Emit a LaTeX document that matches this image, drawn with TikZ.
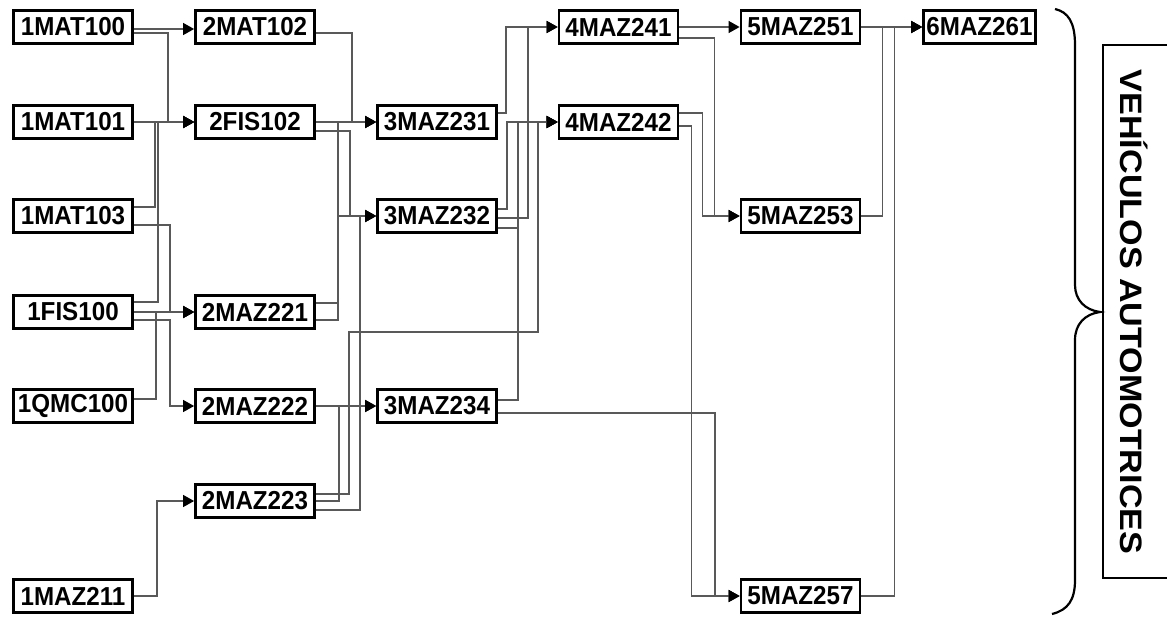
\documentclass[tikz,border=0pt]{standalone}
\usepackage{fontspec}
\setmainfont{Liberation Sans}
\newfontfamily\boxfont[FakeStretch=0.93]{Liberation Sans}
\newfontfamily\titlefont[FakeStretch=1.1]{Liberation Sans}
\usetikzlibrary{arrows.meta,calc}
\begin{document}
\begin{tikzpicture}[x=1pt,y=-1pt]
\tikzset{
  course/.style={draw=black, line width=2.8pt, fill=white, minimum width=119pt,
    minimum height=33pt, inner sep=0pt, font=\boxfont\fontsize{26}{27}\selectfont\bfseries},
  conn/.style={draw=black!65, line width=1.2pt},
  arr/.style={conn, -{Triangle[length=11pt,width=12pt,black]}},
}
\useasboundingbox (0,0) rectangle (1167,616);
\clip (0,0) rectangle (1167,616);
% column 1
\node[course] (a1) at (73,27) {1MAT100};
\node[course] (a2) at (73,122) {1MAT101};
\node[course] (a3) at (73,216) {1MAT103};
\node[course] (a4) at (73,312) {1FIS100};
\node[course] (a5) at (73,406) {1QMC100};
\node[course] (a7) at (73,596) {1MAZ211};
% column 2
\node[course] (b1) at (255,27) {2MAT102};
\node[course] (b2) at (255,122) {2FIS102};
\node[course] (b4) at (255,312) {2MAZ221};
\node[course] (b5) at (255,406) {2MAZ222};
\node[course] (b6) at (255,501) {2MAZ223};
% column 3
\node[course] (c1) at (437,122) {3MAZ231};
\node[course] (c2) at (437,216) {3MAZ232};
\node[course] (c3) at (437,406) {3MAZ234};
% column 4
\node[course] (d1) at (618.5,27) {4MAZ241};
\node[course] (d2) at (618.5,122) {4MAZ242};
% column 5
\node[course] (e1) at (800.5,27) {5MAZ251};
\node[course] (e2) at (800.5,216) {5MAZ253};
\node[course] (e3) at (800.5,596) {5MAZ257};
% column 6
\node[course, minimum width=112pt] (f1) at (979.5,27) {6MAZ261};
\coordinate (j1) at (538,332);
% col1 -> col2
\draw[arr] ([yshift=-2pt]a1.east) -- ([yshift=-2pt]b1.west);
\draw[arr] ([yshift=-6pt]a1.east) -- ++(34,0) |- (b2.west);
\draw[arr] (a2.east) -- (b2.west);
\draw[arr] ([yshift=9pt]a3.east) -- ++(21,0) |- (b2.west);
\draw[arr] ([yshift=-9pt]a3.east) -- ++(36,0) |- (b4.west);
\draw[arr] ([yshift=10pt]a4.east) -- ++(24,0) |- (b2.west);
\draw[arr] (a4.east) -- (b4.west);
\draw[arr] ([yshift=-8pt]a4.east) -- ++(36,0) |- (b5.west);
\draw[arr] ([yshift=7pt]a5.east) -- ++(22,0) |- (b4.west);
\draw[arr] (a7.east) -- ++(23,0) |- (b6.west);
% col2 -> col3
\draw[arr] ([yshift=-6pt]b1.east) -- ++(36,0) |- (c1.west);
\draw[arr] (b2.east) -- (c1.west);
\draw[arr] ([yshift=-9pt]b2.east) -- ++(34,0) |- (c2.west);
\draw[arr] ([yshift=9pt]b4.east) -- ++(22,0) |- (c1.west);
\draw[arr] ([yshift=-8pt]b4.east) -- ++(22,0) |- (c2.west);
\draw[arr] (b5.east) -- (c3.west);
\draw[arr] ([yshift=7pt]b6.east) -- ++(33,0) |- (j1) |- (d2.west);
\draw[arr] (b6.east) -- ++(23,0) |- (c3.west);
\draw[arr] ([yshift=-9pt]b6.east) -- ++(44,0) |- (c2.west);
% col3 -> col4
\draw[arr] ([yshift=9pt]c1.east) -- ++(8,0) |- (d1.west);
\draw[arr] ([yshift=7pt]c2.east) -- ++(9,0) |- (d2.west);
\draw[arr] ([yshift=-2pt]c2.east) -- ++(30,0) |- (d1.west);
\draw[arr] ([yshift=-12pt]c2.east) -- ++(20,0) |- (d2.west);
\draw[arr] ([yshift=6pt]c3.east) -- ++(20,0) |- (d2.west);
\draw[arr] ([yshift=-7pt]c3.east) -- ++(217,0) |- (e3.west);
% col4 -> col5
\draw[arr] (d1.east) -- (e1.west);
\draw[arr] ([yshift=-11pt]d1.east) -- ++(35,0) |- (e2.west);
\draw[arr] ([yshift=9pt]d2.east) -- ++(23,0) |- (e2.west);
\draw[arr] ([yshift=-4pt]d2.east) -- ++(12,0) |- (e3.west);
% col5 -> col6
\draw[arr] (e1.east) -- (f1.west);
\draw[arr] (e2.east) -- ++(21,0) |- (f1.west);
\draw[arr] (e3.east) -- ++(33,0) |- (f1.west);
% brace and label
\draw[line width=2.2pt] (1055,9) .. controls (1068,12) and (1075,22) .. (1075,45)
  -- (1075,285) .. controls (1075,300) and (1085,310) .. (1100,312)
  .. controls (1085,314) and (1075,324) .. (1075,340)
  -- (1075,580) .. controls (1075,600) and (1068,610) .. (1052,614);
\draw[line width=1.2pt] (1180,45) -- (1103,45) -- (1103,578) -- (1180,578);
\node[rotate=-90, font=\titlefont\fontsize{31}{31}\selectfont\bfseries] (title) at (1134,312) {VEHÍCULOS AUTOMOTRICES};
\end{tikzpicture}
\end{document}
